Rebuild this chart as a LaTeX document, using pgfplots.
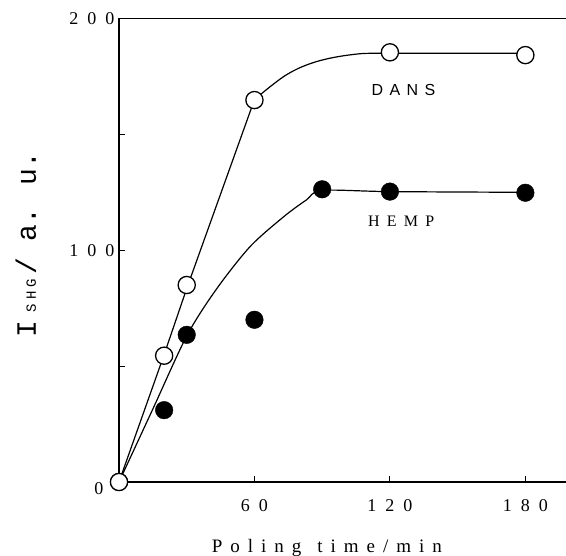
\documentclass[border=0pt]{standalone}
\usepackage{fontspec}
\setmainfont{Liberation Serif}
\newfontfamily\tickfont[LetterSpace=50]{Liberation Serif}
\newfontfamily\xlabfont[LetterSpace=42]{Liberation Serif}
\newfontfamily\ylabfont{Liberation Mono}
\newfontfamily\ysubfont[LetterSpace=30]{Liberation Mono}
\newfontfamily\dansfont[LetterSpace=40]{Liberation Sans}
\newfontfamily\hempfont[LetterSpace=45]{Liberation Serif}
\usepackage{pgfplots}
\pgfplotsset{compat=1.18}
\begin{document}
\begin{tikzpicture}
\useasboundingbox (-119pt,-74pt) rectangle (447pt,482pt);
\begin{axis}[
  at={(0,0)}, anchor=south west,
  scale only axis, width=447pt, height=463.5pt,
  xmin=0, xmax=198, ymin=0, ymax=200,
  axis x line*=box, axis y line*=left,
  xtick pos=bottom, ytick pos=left,
  axis line style={line width=1.1pt, -},
  xtick={60,120,180}, xticklabels={60,120,180},
  ytick={0,50,100,150,200}, yticklabels={,,100,,200},
  tick align=inside, major tick length=6pt,
  tick style={line width=1pt, black},
  every x tick label/.append style={font=\tickfont\fontsize{18}{18}\selectfont, yshift=-14pt, xshift=0pt},
  every y tick label/.append style={font=\tickfont\fontsize{18}{18}\selectfont, xshift=-1pt},
  /pgf/number format/assume math mode=true,
  clip=false,
  xlabel={\xlabfont\fontsize{19}{19}\selectfont Poling\kern16pt time/min},
  xlabel style={anchor=base, at={(axis description cs:0.465,0)}, yshift=-71pt},
  ylabel={\ylabfont\fontsize{28}{28}\selectfont I\hspace{8pt}{\ysubfont\fontsize{14}{14}\selectfont SHG}\hspace{4pt}/ a. u.},
  ylabel style={anchor=base, at={(axis description cs:-0.186,0.513)}},
]
% fitted curves
\addplot[black, line width=1.2pt, sharp plot] coordinates {(0,0) (20,55) (30,83.5) (60,165)};
\addplot[black, line width=1.2pt, smooth, tension=0.6] coordinates {(60,165) (74,175.6) (87.5,181.4) (104,184.5) (120,185) (180,185)};
\addplot[black, line width=1.2pt, smooth, tension=0.5] coordinates {(0,0) (15,31.5) (30,63) (43,83) (58,101.5) (73,114.5) (83,121.7) (90,125.8) (120,125.3) (180,125)};
% HEMP data
\addplot[only marks, mark=*, mark size=8.8pt, mark options={fill=black, draw=black}] coordinates {(0,0) (20,31) (30,63.5) (60,70) (90,126.3) (120,125.3) (180,124.8)};
% DANS data
\addplot[only marks, mark=*, mark size=8.6pt, mark options={fill=white, draw=black, line width=1.3pt}] coordinates {(0,0) (20,54.5) (30,85) (60,164.8) (120,185.4) (180,184.2)};
\node[font=\tickfont\fontsize{18}{18}\selectfont] at (axis cs:0,0) [xshift=-20pt, yshift=-6.5pt] {0};
\node[font=\dansfont\fontsize{16}{16}\selectfont] at (axis cs:126,169) {DANS};
\node[font=\hempfont\fontsize{16}{16}\selectfont] at (axis cs:125,112.7) {HEMP};
\end{axis}
\end{tikzpicture}
\end{document}
